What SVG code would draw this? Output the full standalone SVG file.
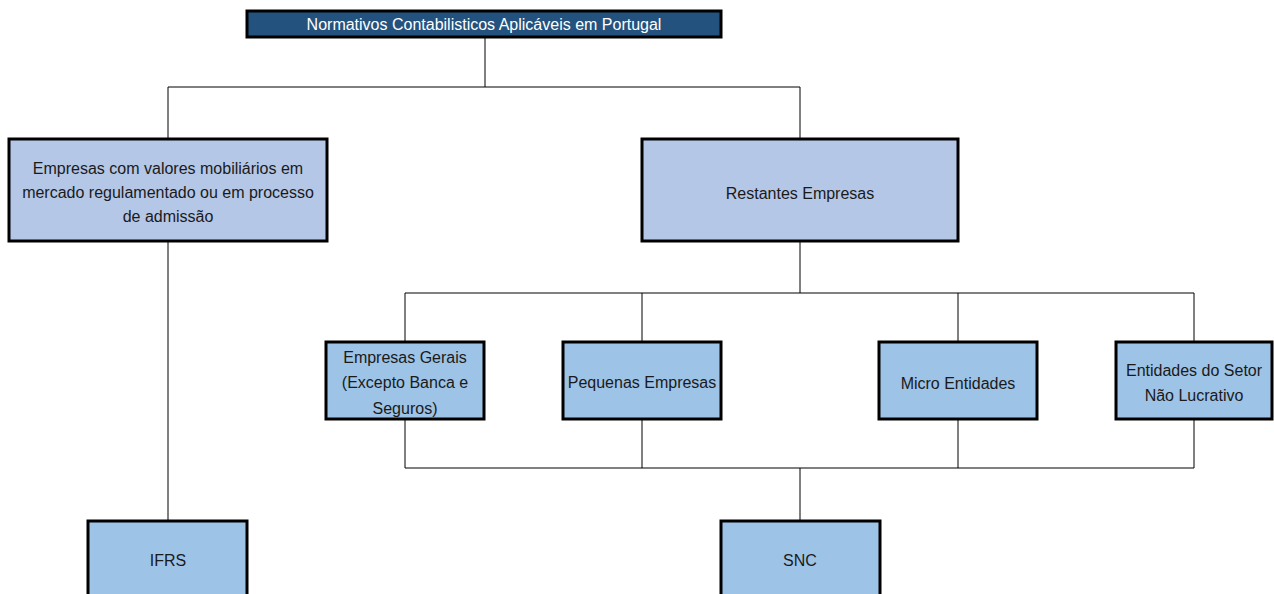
<svg xmlns="http://www.w3.org/2000/svg" width="1274" height="594" viewBox="0 0 1274 594">
<style>
.box{stroke:#000;stroke-width:3}
.top{fill:#23527E}
.l2{fill:#B4C7E7}
.l3{fill:#9DC3E6}
text{font-family:"Liberation Sans",Arial,sans-serif;font-size:16px;text-anchor:middle;fill:#1a1a1a}
.w{fill:#fff}
.conn{stroke:#000;stroke-width:1;fill:none}
</style>
<rect width="1274" height="594" fill="#fff"/>
<g id="connectors">
<path class="conn" d="M485 37V87M168 87H800M168 87V139M800 87V139"/>
<path class="conn" d="M168 241V521"/>
<path class="conn" d="M800 241V293M405 293H1194M405 293V342M642 293V342M958 293V342M1194 293V342"/>
<path class="conn" d="M405 419V468M642 419V468M958 419V468M1194 419V468M405 468H1194M800 468V521"/>
</g>
<g id="n-top"><rect class="box top" x="247" y="11" width="474" height="26"/><text class="w" x="484" y="30">Normativos Contabilisticos Aplicáveis em Portugal</text></g>
<g id="n-mercado"><rect class="box l2" x="9" y="139" width="318" height="102"/><text x="168" y="174">Empresas com valores mobiliários em</text><text x="168" y="198">mercado regulamentado ou em processo</text><text x="168" y="222">de admissão</text></g>
<g id="n-restantes"><rect class="box l2" x="642" y="139" width="316" height="102"/><text x="800" y="199">Restantes Empresas</text></g>
<g id="n-gerais"><rect class="box l3" x="326" y="342" width="158" height="77"/><text x="405" y="363">Empresas Gerais</text><text x="405" y="388">(Excepto Banca e</text><text x="405" y="414">Seguros)</text></g>
<g id="n-pequenas"><rect class="box l3" x="563" y="342" width="158" height="77"/><text x="642" y="388">Pequenas Empresas</text></g>
<g id="n-micro"><rect class="box l3" x="879" y="342" width="158" height="77"/><text x="958" y="389">Micro Entidades</text></g>
<g id="n-entidades"><rect class="box l3" x="1116" y="342" width="156" height="77"/><text x="1194" y="376">Entidades do Setor</text><text x="1194" y="401">Não Lucrativo</text></g>
<g id="n-ifrs"><rect class="box l3" x="88" y="521" width="159" height="80"/><text x="168" y="566">IFRS</text></g>
<g id="n-snc"><rect class="box l3" x="721" y="521" width="159" height="80"/><text x="800" y="566">SNC</text></g>
</svg>
